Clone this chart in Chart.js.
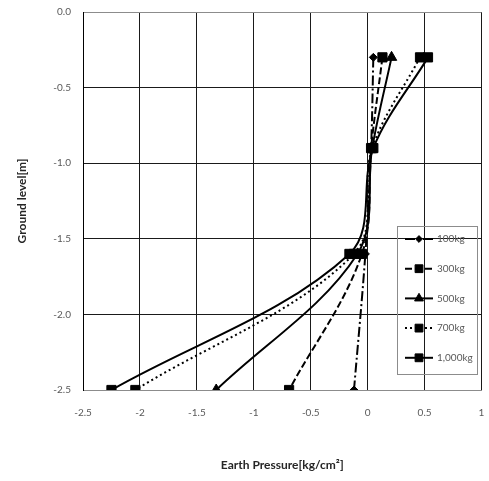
<!DOCTYPE html>
<html>
<head>
<meta charset="utf-8">
<title>Earth Pressure</title>
<script src="https://cdn.jsdelivr.net/npm/chart.js@4.4.1/dist/chart.umd.min.js"></script>
<style>
  html, body { margin: 0; padding: 0; background: #fff; }
</style>
</head>
<body>
<canvas id="chart" width="489" height="481"></canvas>
<script>
// measurement depths (m) and earth pressure per load (kg/cm2)
const depths = [-0.3, -0.9, -1.6, -2.5];
const loadLabels = ['100kg', '300kg', '500kg', '700kg', '1,000kg'];
const p100 = [0.05, 0.03, -0.02, -0.12];
const p300 = [0.13, 0.03, -0.05, -0.69];
const p500 = [0.21, 0.04, -0.09, -1.33];
const p700 = [0.46, 0.04, -0.12, -2.04];
const p1000 = [0.53, 0.05, -0.16, -2.25];
const xTicks = [-2.5, -2, -1.5, -1, -0.5, 0, 0.5, 1];
const yTicks = [0, -0.5, -1, -1.5, -2, -2.5];

const FONT = 'Lato, "Liberation Sans", sans-serif';
const GRID = '#1a1a1a';
const FRAME = '#8c8c8c';
const LABEL = '#595959';

// line style for each load, in legend order
const styles = [
    { dash: [10, 3, 2, 3], point: 'rectRot', radius: 4 },
    { dash: [7, 3], point: 'rect', radius: 6.5 },
    { dash: [], point: 'triangle', radius: 6 },
    { dash: [2, 3], point: 'rect', radius: 6.5 },
    { dash: [], point: 'rect', radius: 6.5 }
];
const series = [p100, p300, p500, p700, p1000];

const datasets = series.map((vals, i) => ({
    label: loadLabels[i],
    data: depths.map((d, j) => ({ x: vals[j], y: d })),
    borderColor: '#000',
    backgroundColor: '#000',
    borderWidth: 2,
    borderDash: styles[i].dash,
    pointStyle: styles[i].point,
    pointRadius: styles[i].radius,
    pointBorderWidth: 1,
    tension: 0.35
}));

// legend box drawn inside the plot, transparent so the grid shows through
const boxLegend = {
    id: 'boxLegend',
    afterDatasetsDraw(chart) {
        const ctx = chart.ctx;
        const box = { x: 397.5, y: 226.5, w: 80, h: 148 };
        ctx.save();
        ctx.strokeStyle = FRAME;
        ctx.lineWidth = 1;
        ctx.setLineDash([]);
        ctx.strokeRect(box.x, box.y, box.w, box.h);
        ctx.font = '10px ' + FONT;
        ctx.textBaseline = 'middle';
        ctx.textAlign = 'left';
        chart.data.datasets.forEach((ds, i) => {
            const y = 239 + i * 29.7;
            ctx.strokeStyle = '#000';
            ctx.fillStyle = '#000';
            ctx.lineWidth = 2;
            ctx.setLineDash(ds.borderDash);
            ctx.beginPath();
            ctx.moveTo(405, y);
            ctx.lineTo(433, y);
            ctx.stroke();
            ctx.setLineDash([]);
            ctx.lineWidth = 1;
            Chart.helpers.drawPoint(ctx, {
                pointStyle: ds.pointStyle,
                radius: ds.pointRadius * 0.85,
                rotation: 0,
                borderWidth: 1
            }, 419, y);
            ctx.fillStyle = LABEL;
            ctx.fillText(ds.label, 437, y);
        });
        ctx.restore();
    }
};

new Chart(document.getElementById('chart'), {
    type: 'line',
    data: { datasets },
    options: {
        responsive: false,
        animation: false,
        layout: { padding: { top: 12, right: 7, left: 0, bottom: 0 } },
        plugins: {
            legend: { display: false },
            tooltip: { enabled: false }
        },
        scales: {
            x: {
                type: 'linear',
                min: -2.5,
                max: 1,
                afterBuildTicks: s => { s.ticks = xTicks.map(v => ({ value: v })); },
                afterFit: s => { s.height = 91; s.paddingLeft = 0; s.paddingRight = 0; },
                ticks: {
                    padding: 17,
                    color: LABEL,
                    font: { family: FONT, size: 10 },
                    callback: v => String(v)
                },
                grid: { color: GRID, lineWidth: 1, drawTicks: false },
                border: { display: true, color: FRAME, width: 1 },
                title: {
                    display: true,
                    text: 'Earth Pressure[kg/cm²]',
                    color: '#262626',
                    font: { family: FONT, size: 12, weight: 'bold' },
                    padding: { top: 0, bottom: 9 }
                }
            },
            y: {
                type: 'linear',
                min: -2.5,
                max: 0,
                afterBuildTicks: s => { s.ticks = yTicks.map(v => ({ value: v })); },
                afterFit: s => { s.width = 83; s.paddingTop = 0; s.paddingBottom = 0; },
                ticks: {
                    padding: 12,
                    color: LABEL,
                    font: { family: FONT, size: 10 },
                    callback: v => v.toFixed(1)
                },
                grid: {
                    color: c => (c.tick && (c.tick.value === 0 || c.tick.value === -2.5)) ? FRAME : GRID,
                    lineWidth: 1,
                    drawTicks: false
                },
                border: { display: true, color: '#000', width: 1 },
                title: {
                    display: true,
                    text: 'Ground level[m]',
                    color: '#262626',
                    font: { family: FONT, size: 12, weight: 'bold' },
                    padding: { top: 15, bottom: 0 }
                }
            }
        }
    },
    plugins: [boxLegend]
});
</script>
</body>
</html>
